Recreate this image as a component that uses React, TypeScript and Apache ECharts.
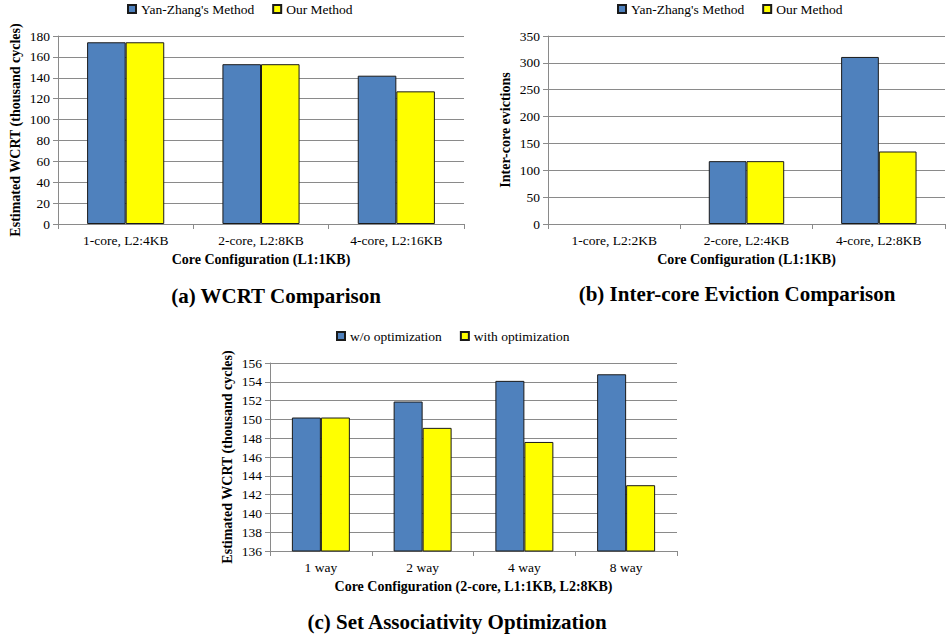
import React, { useEffect, useRef } from "react";
import * as echarts from "echarts";

const catsA = ["1-core, L2:4KB", "2-core, L2:8KB", "4-core, L2:16KB"];
const yanZhangA = [174, 153, 142];
const oursA = [174, 153, 127];

const catsB = ["1-core, L2:2KB", "2-core, L2:4KB", "4-core, L2:8KB"];
const yanZhangB = [0, 117, 311];
const oursB = [0, 117, 135];

const catsC = ["1 way", "2 way", "4 way", "8 way"];
const withoutOpt = [150.2, 151.9, 154.1, 154.8];
const withOpt = [150.2, 149.1, 147.6, 143.0];

const FONT = "Liberation Serif";
const BLUE = "#4F81BD";
const YELLOW = "#FFFF00";
const GRID = "#8a8a8a";

function xAxisFor(gridIndex: number, data: string[], name: string) {
  return {
    type: "category",
    gridIndex,
    data,
    name,
    nameLocation: "middle",
    nameGap: 28,
    nameTextStyle: { fontFamily: FONT, fontSize: 14, fontWeight: "bold", color: "#000" },
    axisLine: { lineStyle: { color: GRID } },
    axisTick: { show: true, length: 5, lineStyle: { color: GRID } },
    axisLabel: { fontFamily: FONT, fontSize: 13.5, color: "#000", margin: 9 },
  };
}

function yAxisFor(gridIndex: number, min: number, max: number, interval: number, name: string) {
  return {
    type: "value",
    gridIndex,
    min,
    max,
    interval,
    name,
    nameLocation: "middle",
    nameGap: 36,
    nameTextStyle: { fontFamily: FONT, fontSize: 14, fontWeight: "bold", color: "#000" },
    axisLine: { show: true, lineStyle: { color: GRID } },
    axisTick: { show: true, length: 5, lineStyle: { color: GRID } },
    axisLabel: { fontFamily: FONT, fontSize: 13.5, color: "#000", margin: 8 },
    splitLine: { show: true, lineStyle: { color: GRID, width: 1 } },
  };
}

function barSeries(name: string, data: number[], idx: number, color: string) {
  return {
    type: "bar",
    name,
    data: data.map((v) => (v === 0 ? { value: v, itemStyle: { borderWidth: 0 } } : v)),
    xAxisIndex: idx,
    yAxisIndex: idx,
    barGap: "0%",
    barCategoryGap: "43%",
    itemStyle: { color, borderColor: "#1a1a1a", borderWidth: 1 },
  };
}

export default function App() {
  const ref = useRef<HTMLDivElement>(null);
  useEffect(() => {
    if (!ref.current) return;
    const chart = echarts.init(ref.current, null, { renderer: "svg" });
    const legendText = { fontFamily: FONT, fontSize: 13.5, color: "#000" };
    const legendBase = {
      icon: "rect",
      itemWidth: 8,
      itemHeight: 8,
      itemGap: 18,
      padding: 0,
      textStyle: legendText,
    };
    chart.setOption({
      animation: false,
      backgroundColor: "#fff",
      textStyle: { fontFamily: FONT },
      grid: [
        { left: 58, top: 36, width: 406, height: 188 },
        { left: 548, top: 36, width: 397, height: 188 },
        { left: 270, top: 363, width: 407, height: 188 },
      ],
      xAxis: [
        xAxisFor(0, catsA, "Core Configuration (L1:1KB)"),
        xAxisFor(1, catsB, "Core Configuration (L1:1KB)"),
        xAxisFor(2, catsC, "Core Configuration (2-core, L1:1KB, L2:8KB)"),
      ],
      yAxis: [
        yAxisFor(0, 0, 180, 20, "Estimated WCRT (thousand cycles)"),
        yAxisFor(1, 0, 350, 50, "Inter-core evictions"),
        yAxisFor(2, 136, 156, 2, "Estimated WCRT (thousand cycles)"),
      ],
      legend: [
        { ...legendBase, left: 127, top: 2, data: ["Yan-Zhang's Method", "Our Method"] },
        { ...legendBase, left: 617, top: 2, data: ["Yan-Zhang's Method", "Our Method"] },
        { ...legendBase, left: 336, top: 329, data: ["w/o optimization", "with optimization"] },
      ],
      series: [
        barSeries("Yan-Zhang's Method", yanZhangA, 0, BLUE),
        barSeries("Our Method", oursA, 0, YELLOW),
        barSeries("Yan-Zhang's Method", yanZhangB, 1, BLUE),
        barSeries("Our Method", oursB, 1, YELLOW),
        barSeries("w/o optimization", withoutOpt, 2, BLUE),
        barSeries("with optimization", withOpt, 2, YELLOW),
      ],
      graphic: [
        {
          type: "text", x: 276, y: 296,
          style: { text: "(a) WCRT Comparison", font: `bold 21px ${FONT}`, fill: "#000", textAlign: "center", textVerticalAlign: "middle" },
        },
        {
          type: "text", x: 737, y: 294,
          style: { text: "(b) Inter-core Eviction Comparison", font: `bold 21px ${FONT}`, fill: "#000", textAlign: "center", textVerticalAlign: "middle" },
        },
        {
          type: "text", x: 457, y: 622,
          style: { text: "(c) Set Associativity Optimization", font: `bold 21px ${FONT}`, fill: "#000", textAlign: "center", textVerticalAlign: "middle" },
        },
      ],
    });
    return () => chart.dispose();
  }, []);
  return (
    <div
      ref={ref}
      style={{ position: "absolute", left: 0, top: 0, width: 947, height: 641 }}
    />
  );
}
